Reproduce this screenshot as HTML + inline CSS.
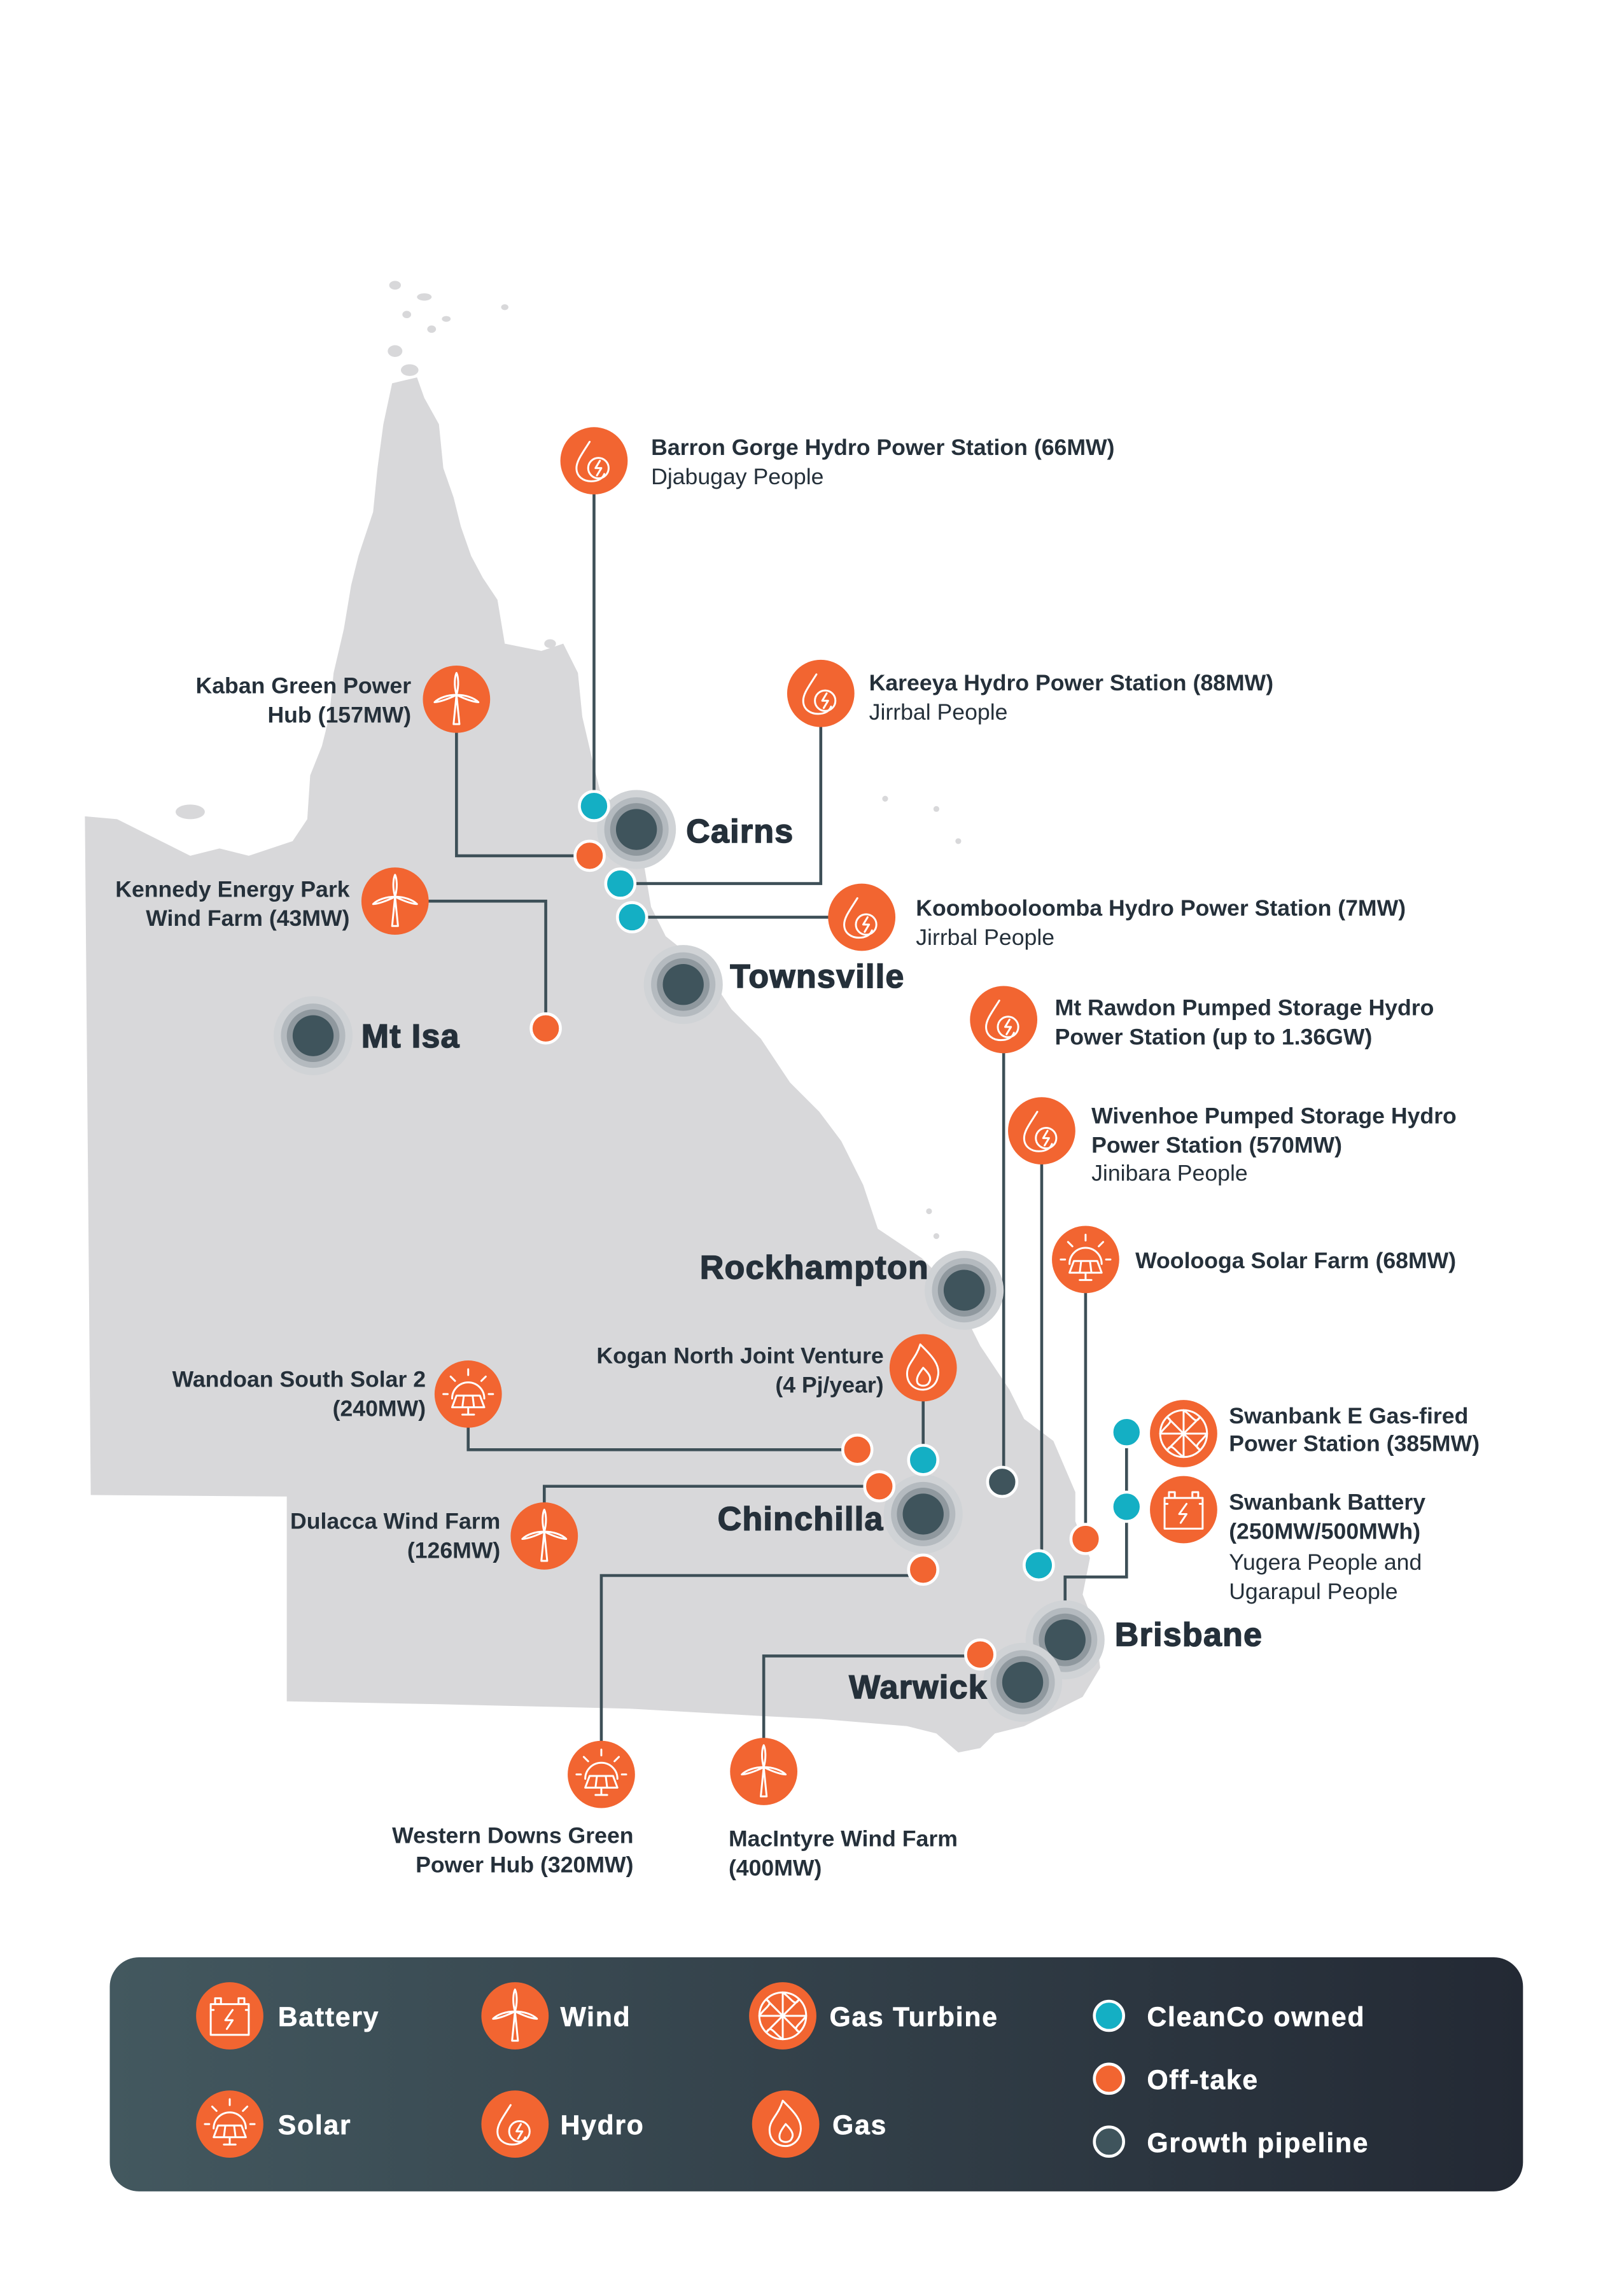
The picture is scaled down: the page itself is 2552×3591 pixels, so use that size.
<!DOCTYPE html>
<html><head><meta charset="utf-8"><style>
html,body{margin:0;padding:0;background:#fff}
svg{display:block}
text{font-family:"Liberation Sans",Arial,sans-serif;fill:#25303a}
.b{font-weight:bold;font-size:15.5px}
.n{font-size:15.5px}
.c{font-weight:bold;font-size:22.5px;letter-spacing:0.6px;stroke:#25303a;stroke-width:0.7}
.lg{font-weight:bold;font-size:18.5px;fill:#fff;letter-spacing:0.8px;stroke:#fff;stroke-width:0.3}
.ln{stroke:#3d4f57;stroke-width:2;fill:none}
.ic{fill:none;stroke:#fff;stroke-width:1.3;stroke-linejoin:round;stroke-linecap:round}
</style></head><body>
<svg width="2552" height="3591" viewBox="0 0 1110 1562" xmlns="http://www.w3.org/2000/svg">
<defs>
<linearGradient id="g" x1="0" x2="1" y1="0" y2="0"><stop offset="0" stop-color="#43585f"/><stop offset="1" stop-color="#232934"/></linearGradient>
<g id="hydro"><circle r="23" fill="#f26531"/><path class="ic" d="M-3,-13 C-8,-5 -12,0 -12,5 C-12,11 -7,14 -2,14 C3,14 6,12 7,9"/><circle class="ic" cx="3" cy="5" r="7"/><path class="ic" d="M4,0 L1,5 L5,5 L2,10"/></g>
<g id="wind"><circle r="23" fill="#f26531"/><path class="ic" d="M0,-3 L-2,17 L2,17 Z M0,-3 C-2,-10 -1,-16 0,-18 C1,-16 2,-10 0,-3 M0,-3 C-6,0 -12,2 -15,2 C-12,-1 -6,-3 0,-3 M0,-3 C6,0 12,2 15,2 C12,-1 6,-3 0,-3"/></g>
<g id="solar"><circle r="23" fill="#f26531"/><path class="ic" d="M-11,3 A11,11 0 0 1 11,3 M0,-17 V-13 M-12,-12 L-9,-9 M12,-12 L9,-9 M-17,0 H-14 M17,0 H14 M-8,1 H8 L11,9 H-11 Z M-3,1 L-4,9 M3,1 L4,9 M0,9 V14 M-4,14 H4"/></g>
<g id="battery"><circle r="23" fill="#f26531"/><path class="ic" d="M-13,-8 H13 V13 H-13 Z M-10,-8 V-12 H-6 V-8 M6,-8 V-12 H10 V-8 M2,-4 L-3,3 H2 L-2,9 M-13,-4 H-11 M13,-4 H11"/></g>
<g id="gas"><circle r="23" fill="#f26531"/><path class="ic" d="M-2,-16 C6,-8 12,-2 10,6 C9,12 4,15 0,15 C-6,15 -11,11 -11,4 C-11,-3 -5,-6 -2,-16 Z M0,0 C4,4 6,7 4,10 C3,13 -3,13 -4,10 C-5,7 -3,4 0,0 Z" stroke-width="2"/></g>
<g id="turb"><circle r="23" fill="#f26531"/><circle class="ic" r="16"/><path class="ic" d="M0,0 L0,-16 M0,0 L11,-11 M0,0 L16,0 M0,0 L11,11 M0,0 L0,16 M0,0 L-11,11 M0,0 L-16,0 M0,0 L-11,-11 M0,-16 C6,-12 8,-6 11,-11 M16,0 C12,6 6,8 11,11 M0,16 C-6,12 -8,6 -11,11 M-16,0 C-12,-6 -6,-8 -11,-11"/></g>
<g id="city"><circle r="27" fill="#d0d3d6"/><circle r="22" fill="#b4babf"/><circle r="18" fill="#8f989e"/><circle r="14" fill="#3f545c"/></g>
</defs>
<path fill="#d8d8da" d="M268,262 L285,258 L290,272 L300,290 L303,320 L310,340 L315,360 L322,380 L330,395 L340,410 L345,440 L370,445 L385,440 L395,460 L398,490 L405,520 L410,540 L425,555 L440,590 L445,620 L455,640 L480,660 L500,690 L520,710 L540,740 L560,760 L575,780 L590,810 L600,840 L630,860 L650,880 L660,900 L670,920 L690,950 L700,970 L720,985 L735,1020 L735,1040 L745,1065 L740,1090 L748,1110 L752,1140 L740,1160 L720,1170 L700,1180 L680,1185 L670,1195 L655,1198 L640,1185 L620,1180 L560,1175 L520,1173 L430,1168 L300,1165 L196,1163 L196,1023 L62,1022 L58,558 L80,560 L110,575 L130,585 L150,580 L170,585 L200,575 L210,560 L212,530 L220,510 L225,490 L228,460 L235,430 L240,400 L245,380 L255,350 L258,320 L262,290 Z"/>
<g fill="#d8d8da"><ellipse cx="270" cy="195" rx="4" ry="3"/><ellipse cx="290" cy="203" rx="5" ry="2.5"/><ellipse cx="278" cy="215" rx="3" ry="2.5"/><ellipse cx="270" cy="240" rx="5" ry="4"/><ellipse cx="280" cy="253" rx="6" ry="4"/><ellipse cx="295" cy="225" rx="3" ry="2.5"/><ellipse cx="305" cy="218" rx="3" ry="2"/><ellipse cx="345" cy="210" rx="2.5" ry="2"/><ellipse cx="376" cy="440" rx="4" ry="3"/><ellipse cx="130" cy="555" rx="10" ry="5"/><ellipse cx="605" cy="546" rx="2" ry="2"/><ellipse cx="640" cy="553" rx="2" ry="2"/><ellipse cx="655" cy="575" rx="2" ry="2"/><ellipse cx="635" cy="828" rx="2" ry="2"/><ellipse cx="640" cy="845" rx="2" ry="2"/></g>
<path class="ln" d="M406,315 V551 M312,478 V585 H403 M561,474 V604 H424 M589,627 H432 M270,616 H373 V703 M686,697 V1013 M712,773 V1070 M742,861 V1052 M770,979 V1078 H728 V1120 M631,935 V998 M320,953 V991 H586 M372,1050 V1016 H601 M411,1213 V1077 H631 M522,1211 V1132 H670"/>
<use href="#city" x="435" y="567"/><use href="#city" x="467" y="673"/><use href="#city" x="214" y="708"/><use href="#city" x="659" y="882"/><use href="#city" x="631" y="1035"/><use href="#city" x="728" y="1121"/><use href="#city" x="699" y="1150"/>
<g stroke="#fff" stroke-width="2">
<circle cx="406" cy="551" r="10" fill="#14afc4"/><circle cx="403" cy="585" r="10" fill="#f26531"/><circle cx="424" cy="604" r="10" fill="#14afc4"/><circle cx="432" cy="627" r="10" fill="#14afc4"/><circle cx="373" cy="703" r="10" fill="#f26531"/><circle cx="685" cy="1013" r="10" fill="#3f545c"/><circle cx="710" cy="1070" r="10" fill="#14afc4"/><circle cx="742" cy="1052" r="10" fill="#f26531"/><circle cx="770" cy="979" r="10" fill="#14afc4"/><circle cx="770" cy="1030" r="10" fill="#14afc4"/><circle cx="631" cy="998" r="10" fill="#14afc4"/><circle cx="586" cy="991" r="10" fill="#f26531"/><circle cx="601" cy="1016" r="10" fill="#f26531"/><circle cx="631" cy="1073" r="10" fill="#f26531"/><circle cx="670" cy="1131" r="10" fill="#f26531"/>
</g>
<use href="#hydro" x="406" y="315"/><use href="#wind" x="312" y="478"/><use href="#hydro" x="561" y="474"/><use href="#hydro" x="589" y="627"/><use href="#wind" x="270" y="616"/><use href="#hydro" x="686" y="697"/><use href="#hydro" x="712" y="773"/><use href="#solar" x="742" y="861"/><use href="#turb" x="809" y="980"/><use href="#battery" x="809" y="1032"/><use href="#gas" x="631" y="935"/><use href="#solar" x="320" y="953"/><use href="#wind" x="372" y="1050"/><use href="#solar" x="411" y="1213"/><use href="#wind" x="522" y="1211"/>
<text class="c" x="469" y="576">Cairns</text>
<text class="c" x="499" y="675">Townsville</text>
<text class="c" x="247" y="716">Mt Isa</text>
<text class="c" x="635" y="874" text-anchor="end">Rockhampton</text>
<text class="c" x="604" y="1046" text-anchor="end">Chinchilla</text>
<text class="c" x="762" y="1125">Brisbane</text>
<text class="c" x="675" y="1161" text-anchor="end">Warwick</text>
<text class="b" x="445" y="311">Barron Gorge Hydro Power Station (66MW)</text><text class="n" x="445" y="331">Djabugay People</text>
<text class="b" x="281" y="474" text-anchor="end">Kaban Green Power</text><text class="b" x="281" y="494" text-anchor="end">Hub (157MW)</text>
<text class="b" x="594" y="472">Kareeya Hydro Power Station (88MW)</text><text class="n" x="594" y="492">Jirrbal People</text>
<text class="b" x="626" y="626">Koombooloomba Hydro Power Station (7MW)</text><text class="n" x="626" y="646">Jirrbal People</text>
<text class="b" x="239" y="613" text-anchor="end">Kennedy Energy Park</text><text class="b" x="239" y="633" text-anchor="end">Wind Farm (43MW)</text>
<text class="b" x="721" y="694">Mt Rawdon Pumped Storage Hydro</text><text class="b" x="721" y="714">Power Station (up to 1.36GW)</text>
<text class="b" x="746" y="768">Wivenhoe Pumped Storage Hydro</text><text class="b" x="746" y="788">Power Station (570MW)</text><text class="n" x="746" y="807">Jinibara People</text>
<text class="b" x="776" y="867">Woolooga Solar Farm (68MW)</text>
<text class="b" x="840" y="973">Swanbank E Gas-fired</text><text class="b" x="840" y="992">Power Station (385MW)</text>
<text class="b" x="840" y="1032">Swanbank Battery</text><text class="b" x="840" y="1052">(250MW/500MWh)</text><text class="n" x="840" y="1073">Yugera People and</text><text class="n" x="840" y="1093">Ugarapul People</text>
<text class="b" x="604" y="932" text-anchor="end">Kogan North Joint Venture</text><text class="b" x="604" y="952" text-anchor="end">(4 Pj/year)</text>
<text class="b" x="291" y="948" text-anchor="end">Wandoan South Solar 2</text><text class="b" x="291" y="968" text-anchor="end">(240MW)</text>
<text class="b" x="342" y="1045" text-anchor="end">Dulacca Wind Farm</text><text class="b" x="342" y="1065" text-anchor="end">(126MW)</text>
<text class="b" x="433" y="1260" text-anchor="end">Western Downs Green</text><text class="b" x="433" y="1280" text-anchor="end">Power Hub (320MW)</text>
<text class="b" x="498" y="1262">MacIntyre Wind Farm</text><text class="b" x="498" y="1282">(400MW)</text>
<rect x="75" y="1338" width="966" height="160" rx="20" fill="url(#g)"/>
<use href="#battery" x="157" y="1378"/><use href="#solar" x="157" y="1452"/><use href="#wind" x="352" y="1378"/><use href="#hydro" x="352" y="1452"/><use href="#turb" x="535" y="1378"/><use href="#gas" x="537" y="1452"/>
<text class="lg" x="190" y="1385">Battery</text><text class="lg" x="190" y="1459">Solar</text><text class="lg" x="383" y="1385">Wind</text><text class="lg" x="383" y="1459">Hydro</text><text class="lg" x="567" y="1385">Gas Turbine</text><text class="lg" x="569" y="1459">Gas</text>
<g stroke="#fff" stroke-width="2"><circle cx="758" cy="1378" r="10" fill="#14afc4"/><circle cx="758" cy="1421" r="10" fill="#f26531"/><circle cx="758" cy="1464" r="10" fill="#3f545c"/></g>
<text class="lg" x="784" y="1385">CleanCo owned</text><text class="lg" x="784" y="1428">Off-take</text><text class="lg" x="784" y="1471">Growth pipeline</text>
</svg>
</body></html>
